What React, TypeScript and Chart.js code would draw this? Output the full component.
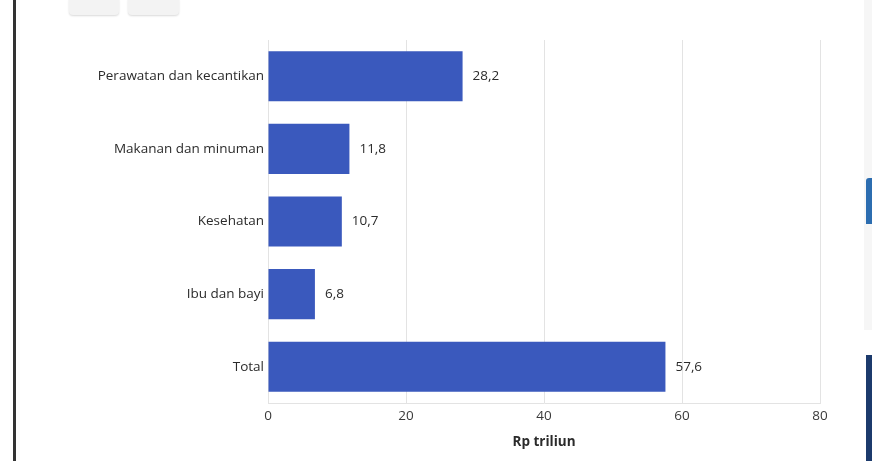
import React, { useEffect, useRef } from "react";
import { Chart, registerables } from "chart.js";

Chart.register(...registerables);

const categories = ["Perawatan dan kecantikan", "Makanan dan minuman", "Kesehatan", "Ibu dan bayi", "Total"];
const values = [28.2, 11.8, 10.7, 6.8, 57.6];
const valueLabels = ["28,2", "11,8", "10,7", "6,8", "57,6"];
const xTicks = [0, 20, 40, 60, 80];
const axisTitle = "Rp triliun";

const FONT = "'Open Sans', 'Noto Sans', sans-serif";
const FS = 13.5;

const labelPlugin = {
  id: "valueLabels",
  afterDatasetsDraw(chart: any) {
    const ctx = chart.ctx;
    const meta = chart.getDatasetMeta(0);
    ctx.save();
    ctx.font = `${FS}px ${FONT}`;
    ctx.fillStyle = "#2b2b2b";
    ctx.textAlign = "left";
    ctx.textBaseline = "middle";
    meta.data.forEach((bar: any, i: number) => {
      ctx.fillText(valueLabels[i], bar.x + 10, bar.y);
    });
    ctx.restore();
  },
};

export default function App() {
  const ref = useRef<HTMLCanvasElement | null>(null);
  useEffect(() => {
    document.body.style.margin = "0";
    const chart = new Chart(ref.current as HTMLCanvasElement, {
      type: "bar",
      data: {
        labels: categories,
        datasets: [
          {
            data: values,
            backgroundColor: "#3a59bd",
            borderWidth: 0,
            categoryPercentage: 1,
            barPercentage: 0.69,
          },
        ],
      },
      options: {
        indexAxis: "y",
        animation: false,
        responsive: false,
        maintainAspectRatio: false,
        layout: { padding: { top: 40, right: 52, bottom: 0, left: 0 } },
        plugins: { legend: { display: false }, tooltip: { enabled: false } },
        scales: {
          x: {
            min: 0,
            max: 80,
            afterBuildTicks: (scale: any) => {
              scale.ticks = xTicks.map((v) => ({ value: v }));
            },
            grid: { color: "#e3e3e3", drawTicks: false },
            border: { color: "#e3e3e3" },
            ticks: { color: "#3a3a3a", font: { family: FONT, size: FS }, padding: 5 },
            title: {
              display: true,
              text: axisTitle,
              color: "#2b2b2b",
              font: { family: FONT, size: FS, weight: "bold" },
              padding: { top: 4, bottom: 11 },
            },
            afterFit: (scale: any) => {
              scale.height = 58;
            },
          },
          y: {
            grid: { display: false, drawTicks: false },
            border: { color: "#e3e3e3" },
            ticks: { color: "#2b2b2b", font: { family: FONT, size: FS }, padding: 4 },
            afterFit: (scale: any) => {
              scale.width = 268;
            },
          },
        },
      },
      plugins: [labelPlugin],
    });
    return () => chart.destroy();
  }, []);

  return (
    <div style={{ position: "relative", width: 872, height: 461, background: "#fff", overflow: "hidden" }}>
      <canvas ref={ref} width={872} height={461} style={{ position: "absolute", left: 0, top: 0 }} />
      <div style={{ position: "absolute", left: 13, top: 0, width: 3, height: 461, background: "#333" }} />
      <div style={{ position: "absolute", left: 69, top: -4, width: 50, height: 19, background: "#f3f3f3", borderRadius: 4, boxShadow: "0 1px 2px rgba(0,0,0,0.15)" }} />
      <div style={{ position: "absolute", left: 128, top: -4, width: 51, height: 19, background: "#f3f3f3", borderRadius: 4, boxShadow: "0 1px 2px rgba(0,0,0,0.15)" }} />
      <div style={{ position: "absolute", left: 864, top: 0, width: 8, height: 330, background: "#f6f6f6" }} />
      <div style={{ position: "absolute", left: 866, top: 178, width: 6, height: 46, background: "#2c6db0", borderRadius: "3px 0 0 0" }} />
      <div style={{ position: "absolute", left: 866, top: 355, width: 6, height: 106, background: "#1c3a6c" }} />
    </div>
  );
}
